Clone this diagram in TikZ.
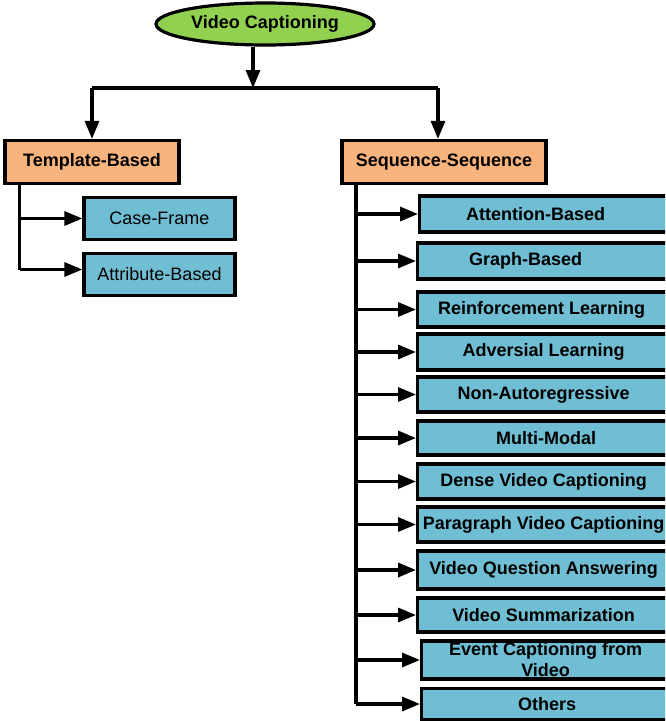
\documentclass[tikz,border=0pt]{standalone}
\usepackage{fontspec}
\setmainfont{Liberation Sans}
\usetikzlibrary{arrows.meta,shapes.geometric}
\definecolor{bluebox}{RGB}{112,190,211}
\definecolor{orangebox}{RGB}{249,180,125}
\definecolor{greenell}{RGB}{146,208,80}
\begin{document}
\begin{tikzpicture}[x=1pt,y=-1pt,
  every node/.style={inner sep=0pt},
  arr/.style={-{Triangle[length=18pt,width=14pt]}, line width=3.2pt},
  ln/.style={line width=3.2pt},
  rootnode/.style={ellipse, draw, line width=3.2pt, fill=greenell,
    font=\fontsize{18}{21}\selectfont\bfseries, minimum width=218pt, minimum height=42pt},
  catnode/.style={rectangle, draw, line width=3.2pt, fill=orangebox,
    font=\fontsize{18}{21}\selectfont\bfseries, minimum height=43pt},
  leafl/.style={rectangle, draw, line width=3.2pt, fill=bluebox,
    font=\fontsize{18}{21}\selectfont, minimum width=151pt, minimum height=42pt},
  leafr/.style={rectangle, draw, line width=3.2pt, fill=bluebox, anchor=west,
    font=\fontsize{18}{21}\selectfont\bfseries, align=center},
]
\clip (0,0) rectangle (665,721);
\fill[white] (0,0) rectangle (665,721);

% root
\node[rootnode] (root) at (265,24) {Video Captioning};
\coordinate (ax) at (253,0);
\coordinate (bar) at (253,88);

% categories
\node[catnode, minimum width=174pt] (tpl) at (92,162) {Template-Based};
\node[catnode, minimum width=204pt] (seq) at (444,162) {Sequence-Sequence};

\draw[arr] (root.south -| ax) -- (bar);
\coordinate (tpltop) at (92,88);
\coordinate (seqtop) at (438,88);
\draw[ln] (tpltop) -- (seqtop);
\draw[arr] (tpltop) -- (tpl.north);
\draw[arr] (seqtop) -- (seqtop |- seq.north);

% template children
\node[leafl] (cf) at (159.5,218.5) {Case-Frame};
\node[leafl] (ab) at (159.5,274.5) {Attribute-Based};
\coordinate (lt) at (19.5,184);
\coordinate (abin) at ([yshift=5pt]ab.west);
\draw[ln] (lt) -- (lt |- abin);
\draw[arr] (lt |- cf.west) -- (cf.west);
\draw[arr] (lt |- abin) -- (abin);

% sequence children
\node[leafr, minimum width=250pt, minimum height=36pt] (b1) at (418,214) {Attention-Based\hspace{18pt}};
\node[leafr, minimum width=252pt, minimum height=36pt] (b2) at (416,261) {Graph-Based\hspace{36pt}};
\node[leafr, minimum width=252pt, minimum height=35pt] (b3) at (416,309.5) {Reinforcement Learning\hspace{4pt}};
\node[leafr, minimum width=252pt, minimum height=36pt] (b4) at (416,352) {Adversial Learning};
\node[leafr, minimum width=252pt, minimum height=35pt] (b5) at (416,394.5) {Non-Autoregressive};
\node[leafr, minimum width=252pt, minimum height=34pt] (b6) at (416,438) {\hspace{5pt}Multi-Modal};
\node[leafr, minimum width=252pt, minimum height=35pt] (b7) at (416,481.5) {Dense Video Captioning};
\node[leafr, minimum width=252pt, minimum height=35pt] (b8) at (416,524.5) {Paragraph Video Captioning};
\node[leafr, minimum width=252pt, minimum height=38pt] (b9) at (416,570) {Video Question Answering};
\node[leafr, minimum width=252pt, minimum height=34pt] (b10) at (416,615) {Video Summarization};
\node[leafr, minimum width=248pt, minimum height=38pt] (b11) at (420,660) {Event Captioning from\\Video};
\node[leafr, minimum width=248pt, minimum height=31pt] (b12) at (420,704) {\hspace{3pt}Others};

\coordinate (rt) at (356,184);
\draw[ln] (rt) -- (rt |- b12.west);
\foreach \b in {b1,b2,b3,b4,b5,b6,b7,b8,b9,b10,b11,b12}
  \draw[arr] (rt |- \b.west) -- (\b.west);
\end{tikzpicture}
\end{document}
